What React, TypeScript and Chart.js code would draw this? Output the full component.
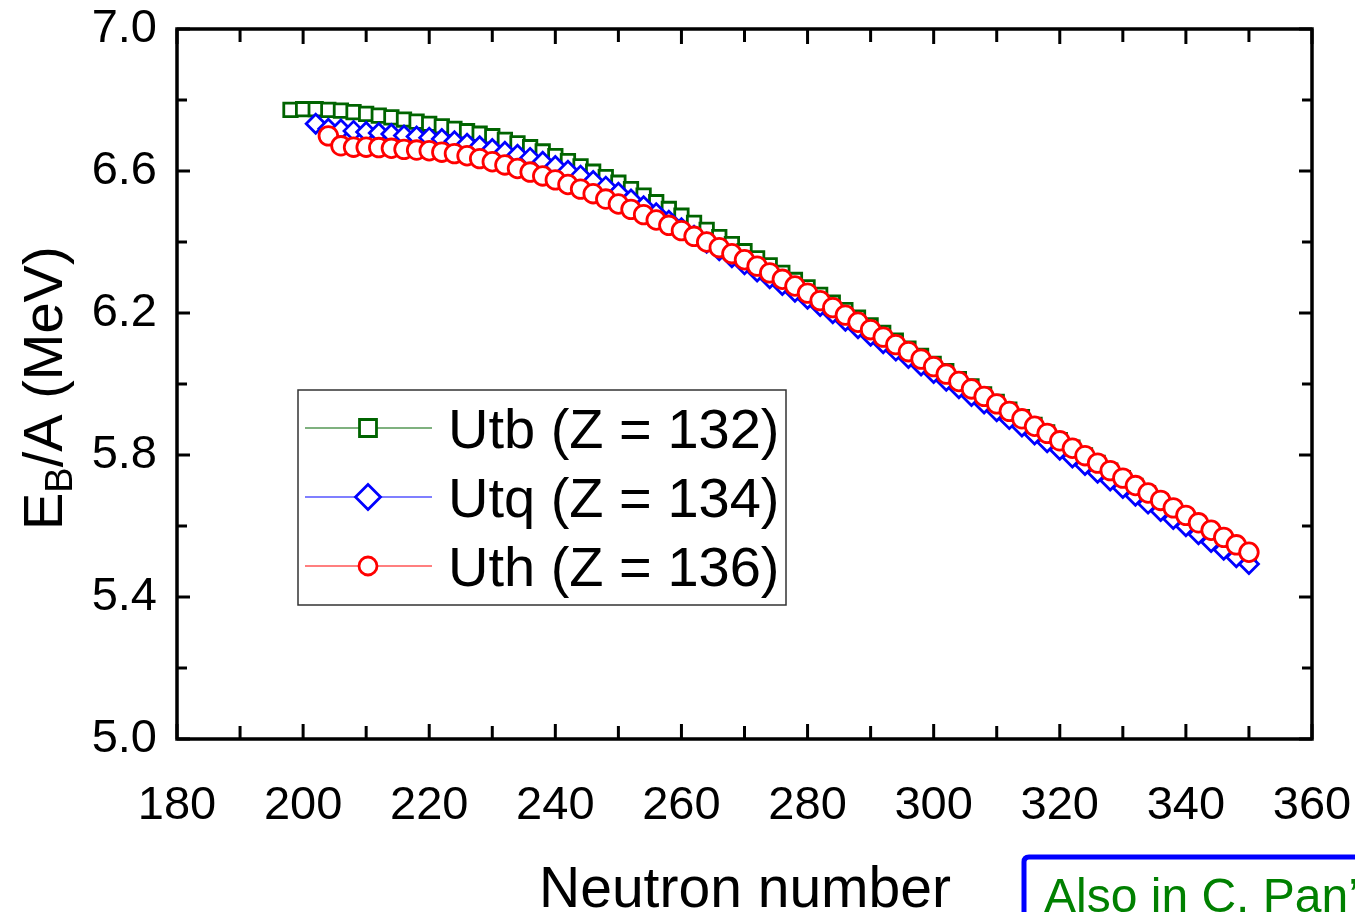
import React, { useEffect, useRef } from 'react';
import { Chart, registerables } from 'chart.js';

Chart.register(...registerables);

const FONT = '"Liberation Sans", Arial, Helvetica, sans-serif';

// Neutron numbers (x values)
const neutronNumbers = [
  198, 200, 202, 204, 206, 208, 210, 212, 214, 216,
  218, 220, 222, 224, 226, 228, 230, 232, 234, 236,
  238, 240, 242, 244, 246, 248, 250, 252, 254, 256,
  258, 260, 262, 264, 266, 268, 270, 272, 274, 276,
  278, 280, 282, 284, 286, 288, 290, 292, 294, 296,
  298, 300, 302, 304, 306, 308, 310, 312, 314, 316,
  318, 320, 322, 324, 326, 328, 330, 332, 334, 336,
  338, 340, 342, 344, 346, 348, 350,
];

// Utb (Z = 132)
const utbValues = [
  6.772, 6.774, 6.774, 6.772, 6.770, 6.766, 6.761, 6.756, 6.751, 6.745,
  6.739, 6.733, 6.726, 6.719, 6.712, 6.705, 6.698, 6.688, 6.678, 6.667,
  6.655, 6.642, 6.628, 6.613, 6.598, 6.583, 6.567, 6.549, 6.531, 6.512,
  6.493, 6.474, 6.454, 6.434, 6.414, 6.394, 6.374, 6.354, 6.334, 6.313,
  6.293, 6.272, 6.251, 6.229, 6.208, 6.187, 6.165, 6.144, 6.122, 6.100,
  6.079, 6.057, 6.036, 6.014, 5.993, 5.971, 5.950, 5.928, 5.907, 5.885,
  5.864, 5.842, 5.821, 5.799, 5.778, 5.756, 5.735, 5.713, 5.692, 5.670,
  5.649, 5.627, 5.606, 5.584, 5.563, 5.541, 5.520,
];

// Utq (Z = 134)
const utqValues = [
  null, null, 6.733, 6.719, 6.717, 6.713, 6.710, 6.707, 6.704, 6.700,
  6.697, 6.694, 6.690, 6.684, 6.677, 6.670, 6.662, 6.654, 6.646, 6.637,
  6.626, 6.614, 6.601, 6.587, 6.572, 6.556, 6.539, 6.520, 6.501, 6.481,
  6.460, 6.439, 6.418, 6.398, 6.377, 6.357, 6.337, 6.317, 6.298, 6.279,
  6.260, 6.240, 6.220, 6.199, 6.178, 6.157, 6.136, 6.115, 6.094, 6.073,
  6.052, 6.031, 6.009, 5.988, 5.966, 5.945, 5.923, 5.901, 5.880, 5.858,
  5.836, 5.815, 5.793, 5.772, 5.750, 5.728, 5.707, 5.685, 5.663, 5.642,
  5.620, 5.599, 5.577, 5.555, 5.533, 5.512, 5.493,
];

// Uth (Z = 136)
const uthValues = [
  null, null, null, 6.699, 6.671, 6.667, 6.667, 6.666, 6.664, 6.661,
  6.659, 6.657, 6.653, 6.649, 6.643, 6.635, 6.626, 6.617, 6.607, 6.597,
  6.586, 6.575, 6.562, 6.549, 6.536, 6.521, 6.507, 6.492, 6.477, 6.462,
  6.447, 6.432, 6.416, 6.400, 6.384, 6.367, 6.350, 6.332, 6.313, 6.295,
  6.276, 6.256, 6.235, 6.215, 6.194, 6.174, 6.153, 6.132, 6.111, 6.091,
  6.070, 6.049, 6.028, 6.007, 5.986, 5.965, 5.944, 5.923, 5.902, 5.881,
  5.861, 5.840, 5.819, 5.798, 5.777, 5.756, 5.735, 5.714, 5.693, 5.672,
  5.651, 5.630, 5.609, 5.588, 5.568, 5.547, 5.526,
];

const seriesLabels = ['Utb (Z = 132)', 'Utq (Z = 134)', 'Uth (Z = 136)'];
const seriesColors = ['#006400', '#0000FF', '#FF0000'];
const seriesMarkers = ['rect', 'rectRot', 'circle'];

const xLabelValues = [180, 200, 220, 240, 260, 280, 300, 320, 340, 360];
const yLabelValues = [5.0, 5.4, 5.8, 6.2, 6.6, 7.0];

const xTitle = 'Neutron number';
const noteText = 'Also in C. Pan\u2019';

const toPoints = (vals: (number | null)[]) =>
  neutronNumbers
    .map((n, i) => ({ x: n, y: vals[i] }))
    .filter((p) => p.y !== null);

function drawPointHelper(ctx: CanvasRenderingContext2D, style: string, r: number, x: number, y: number) {
  ctx.beginPath();
  if (style === 'rect') {
    const s = Math.SQRT1_2 * r;
    ctx.rect(x - s, y - s, 2 * s, 2 * s);
  } else if (style === 'rectRot') {
    ctx.moveTo(x, y - r);
    ctx.lineTo(x + r, y);
    ctx.lineTo(x, y + r);
    ctx.lineTo(x - r, y);
    ctx.closePath();
  } else {
    ctx.arc(x, y, r, 0, Math.PI * 2);
  }
  ctx.fill();
  ctx.stroke();
}

const decorPlugin = {
  id: 'decor',
  afterDraw(chart: any) {
    const { ctx, chartArea: a, scales } = chart;
    const xs = scales.x;
    const ys = scales.y;
    ctx.save();
    ctx.strokeStyle = '#000';
    ctx.lineWidth = 3;
    ctx.lineCap = 'butt';
    const seg = (x1: number, y1: number, x2: number, y2: number) => {
      ctx.beginPath();
      ctx.moveTo(x1, y1);
      ctx.lineTo(x2, y2);
      ctx.stroke();
    };
    xs.ticks.forEach((t: any) => {
      const px = xs.getPixelForValue(t.value);
      const major = xLabelValues.some((v) => Math.abs(v - t.value) < 1e-6);
      const len = major ? 15 : 13;
      seg(px, a.bottom, px, a.bottom - len);
      seg(px, a.top, px, a.top + len);
    });
    ys.ticks.forEach((t: any) => {
      const py = ys.getPixelForValue(t.value);
      const major = yLabelValues.some((v) => Math.abs(v - t.value) < 1e-6);
      const len = major ? 13 : 10;
      seg(a.left, py, a.left + len, py);
      seg(a.right, py, a.right - len, py);
    });
    ctx.lineWidth = 3.5;
    ctx.strokeRect(a.left, a.top, a.right - a.left, a.bottom - a.top);

    // x axis title
    ctx.fillStyle = '#000';
    ctx.font = `57px ${FONT}`;
    ctx.textAlign = 'center';
    ctx.textBaseline = 'alphabetic';
    ctx.fillText(xTitle, 745, 907);

    // y axis title with subscript
    ctx.save();
    ctx.translate(62, 530);
    ctx.rotate(-Math.PI / 2);
    ctx.textAlign = 'left';
    ctx.font = `56px ${FONT}`;
    ctx.fillText('E', 0, 0);
    let w = ctx.measureText('E').width;
    ctx.font = `38px ${FONT}`;
    ctx.fillText('B', w, 10);
    w += ctx.measureText('B').width;
    ctx.font = `56px ${FONT}`;
    ctx.fillText('/A (MeV)', w, 0);
    ctx.restore();

    // legend
    const lx = 298, ly = 390, lw = 488, lh = 215;
    ctx.lineWidth = 1.5;
    ctx.strokeStyle = '#333';
    ctx.strokeRect(lx, ly, lw, lh);
    const rowY = [428, 497, 566];
    const mRad = [12, 12.5, 9];
    chart.data.datasets.forEach((ds: any, i: number) => {
      const y = rowY[i];
      ctx.strokeStyle = ds.borderColor;
      ctx.lineWidth = 1.2;
      seg(305, y, 432, y);
      ctx.lineWidth = 2.8;
      ctx.fillStyle = '#fff';
      drawPointHelper(ctx, ds.pointStyle, mRad[i], 368, y);
      ctx.fillStyle = '#000';
      ctx.font = `56px ${FONT}`;
      ctx.textAlign = 'left';
      ctx.textBaseline = 'alphabetic';
      ctx.fillText(ds.label, 448, y + 20);
    });

    // partial note box at bottom-right
    ctx.strokeStyle = '#0000FF';
    ctx.lineWidth = 5;
    ctx.beginPath();
    ctx.moveTo(1024, 960);
    ctx.lineTo(1024, 862);
    ctx.quadraticCurveTo(1024, 857, 1029, 857);
    ctx.lineTo(1400, 857);
    ctx.stroke();
    ctx.fillStyle = '#008000';
    ctx.font = `48px ${FONT}`;
    ctx.textAlign = 'left';
    ctx.fillText(noteText, 1044, 912);
    ctx.restore();
  },
};

export default function App() {
  const ref = useRef<HTMLCanvasElement | null>(null);
  useEffect(() => {
    if (!ref.current) return;
    const datasets = [utbValues, utqValues, uthValues].map((vals, i) => ({
      label: seriesLabels[i],
      data: toPoints(vals),
      borderColor: seriesColors[i],
      backgroundColor: seriesColors[i],
      borderWidth: 1,
      pointStyle: seriesMarkers[i],
      pointRadius: [9.5, 9.5, 9.3][i],
      pointBorderWidth: 2.8,
      pointBorderColor: seriesColors[i],
      pointBackgroundColor: '#ffffff',
      order: 3 - i,
      tension: 0,
    }));
    const chart = new Chart(ref.current, {
      type: 'line',
      data: { datasets },
      options: {
        animation: false,
        responsive: false,
        devicePixelRatio: 1,
        layout: { padding: { top: 29, right: 43, left: 0, bottom: 0 } },
        plugins: { legend: { display: false }, tooltip: { enabled: false } },
        scales: {
          x: {
            type: 'linear',
            position: 'bottom',
            min: 180,
            max: 360,
            grid: { display: false },
            border: { display: false },
            ticks: {
              stepSize: 10,
              padding: 31,
              color: '#000',
              font: { family: FONT, size: 47 },
              maxRotation: 0,
              autoSkip: false,
              callback: (v: any) =>
                xLabelValues.some((l) => Math.abs(l - v) < 1e-6) ? String(v) : '',
            },
            afterFit: (s: any) => {
              s.height = 173;
              s.paddingLeft = 0;
              s.paddingRight = 0;
              s.paddingTop = 0;
              s.paddingBottom = 0;
            },
          },
          y: {
            type: 'linear',
            min: 5.0,
            max: 7.0,
            grid: { display: false },
            border: { display: false },
            ticks: {
              stepSize: 0.2,
              padding: 12,
              color: '#000',
              font: { family: FONT, size: 47 },
              autoSkip: false,
              callback: (v: any) =>
                yLabelValues.some((l) => Math.abs(l - v) < 1e-6) ? Number(v).toFixed(1) : '',
            },
            afterFit: (s: any) => {
              s.width = 177;
              s.paddingLeft = 0;
              s.paddingRight = 0;
              s.paddingTop = 0;
              s.paddingBottom = 0;
            },
          },
        },
      },
      plugins: [decorPlugin],
    } as any);
    return () => chart.destroy();
  }, []);
  return (
    <div style={{ position: 'fixed', left: 0, top: 0, width: 1355, height: 912, background: '#fff' }}>
      <canvas ref={ref} width={1355} height={912} style={{ display: 'block', width: 1355, height: 912 }} />
    </div>
  );
}
